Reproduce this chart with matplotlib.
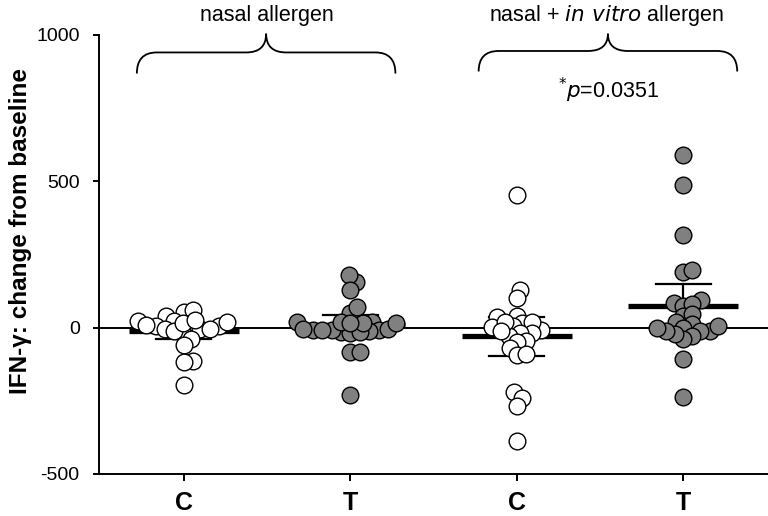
import numpy as np
import matplotlib
matplotlib.use("Agg")
import matplotlib.pyplot as plt
from matplotlib.path import Path
from matplotlib.patches import PathPatch

plt.rcParams["font.family"] = ["Liberation Sans", "DejaVu Sans"]
plt.rcParams["axes.unicode_minus"] = False

# values (IFN-gamma change from baseline)
nasal_c = [52, 60, 41, 24, 7, 24, 7, -4, -4, -4, -4, -22, -10, -39, -61,
           -113, -116, -195, 15, 10, 20, 25]
nasal_t = [157, 181, 130, 50, 72, 20, 20, -7, -13, -16, -4, -7, -4, -19,
           -16, -8, -7, 18, 15, 15, 15, -84, -84, -230]
vitro_c = [453, 130, 100, 35, 41, 15, 1, -7, 4, 18, -18, -18, -27, -44,
           -48, -71, -93, -90, -221, -241, -269, -386, 20, -10]
vitro_t = [588, 487, 317, 191, 198, 96, 83, 73, 81, 39, 47, 13, 18, -2,
           -10, -10, -27, -39, -22, -10, -1, 4, -107, -238]

groups = [nasal_c, nasal_t, vitro_c, vitro_t]
tick_labels = ["C", "T", "C", "T"]
filled = [False, True, False, True]
bracket_labels = ["nasal allergen", "nasal + $\\it{in\\ vitro}$ allergen"]
p_text = "$^{*}\\it{p}$=0.0351"
t_crit = 2.07  # 95% CI


def swarm(ax, xc, vals, min_dist):
    # simple beeswarm in pixel space
    order = np.argsort(vals)
    pts = ax.transData.transform(np.column_stack([np.full(len(vals), xc), vals]))
    x0 = pts[0, 0]
    placed = []
    xs = np.zeros(len(vals))
    for i in order:
        y = pts[i, 1]
        cands = [0.0]
        for (px, py) in placed:
            dy = abs(py - y)
            if dy < min_dist:
                dx = np.sqrt(min_dist ** 2 - dy ** 2)
                cands += [px + dx, px - dx]
        cands = sorted(cands, key=abs)
        for c in cands:
            ok = all((c - px) ** 2 + (y - py) ** 2 >= min_dist ** 2 - 1e-6
                     for (px, py) in placed)
            if ok:
                break
        placed.append((c, y))
        xs[i] = c
    disp = np.column_stack([x0 + xs, pts[:, 1]])
    return ax.transData.inverted().transform(disp)[:, 0]


def brace(ax, x0, x1, y_end, y_h, y_tip, r):
    xm = (x0 + x1) / 2
    verts = [(x0, y_end), (x0, y_h), (x0 + r, y_h),
             (xm - r, y_h),
             (xm, y_h), (xm, y_tip),
             (xm, y_h), (xm + r, y_h),
             (x1 - r, y_h),
             (x1, y_h), (x1, y_end)]
    codes = [Path.MOVETO, Path.CURVE3, Path.CURVE3,
             Path.LINETO,
             Path.CURVE3, Path.CURVE3,
             Path.CURVE3, Path.CURVE3,
             Path.LINETO,
             Path.CURVE3, Path.CURVE3]
    ax.add_patch(PathPatch(Path(verts, codes), fill=False, lw=1.3,
                           color="black", clip_on=False))


fig = plt.figure(figsize=(7.68, 5.16), dpi=100)
ax = fig.add_axes([0.129, 0.0814, 0.871, 0.851])
ax.set_xlim(-0.51, 3.51)
ax.set_ylim(-500, 1000)

ax.axhline(0, color="black", lw=1.4, zorder=1)

for i, vals in enumerate(groups):
    vals = np.array(vals, dtype=float)
    m = vals.mean()
    ci = t_crit * vals.std(ddof=1) / np.sqrt(len(vals))
    ax.plot([i - 0.33, i + 0.33], [m, m], color="black", lw=3.8, zorder=2,
            solid_capstyle="butt")
    ax.plot([i, i], [m - ci, m + ci], color="black", lw=1.6, zorder=2)
    for e in (m - ci, m + ci):
        ax.plot([i - 0.165, i + 0.165], [e, e], color="black", lw=1.6, zorder=2)
    xs = swarm(ax, i, vals, 9.5)
    ax.scatter(xs, vals, s=144, zorder=3, edgecolors="black", linewidths=1.0,
               facecolors="#808080" if filled[i] else "white")

ax.spines["top"].set_visible(False)
ax.spines["right"].set_visible(False)
ax.spines["left"].set_linewidth(1.4)
ax.spines["bottom"].set_linewidth(1.4)

ax.set_yticks([-500, 0, 500, 1000])
ax.set_xticks(range(4))
ax.set_xticklabels(tick_labels, fontsize=18, fontweight="bold")
ax.tick_params(axis="y", labelsize=14, length=4, width=1.4, pad=10)
ax.tick_params(axis="x", length=5, width=1.4, pad=7)

ax.set_ylabel("IFN-γ: change from baseline", fontsize=17.5, fontweight="bold")
ax.yaxis.set_label_coords(-0.100, 0.553)

# brackets and labels above the groups
brace(ax, -0.283, 1.271, 868, 940, 1004, 0.12)
brace(ax, 1.771, 3.325, 875, 945, 1004, 0.12)
ax.text(0.5, 1065, bracket_labels[0], ha="center", va="center",
        fontsize=15.5, clip_on=False)
ax.text(2.54, 1065, bracket_labels[1], ha="center", va="center",
        fontsize=15.5, clip_on=False)
ax.text(2.55, 812, p_text, ha="center", va="center", fontsize=15.5)

fig.savefig("out.png", dpi=100)
